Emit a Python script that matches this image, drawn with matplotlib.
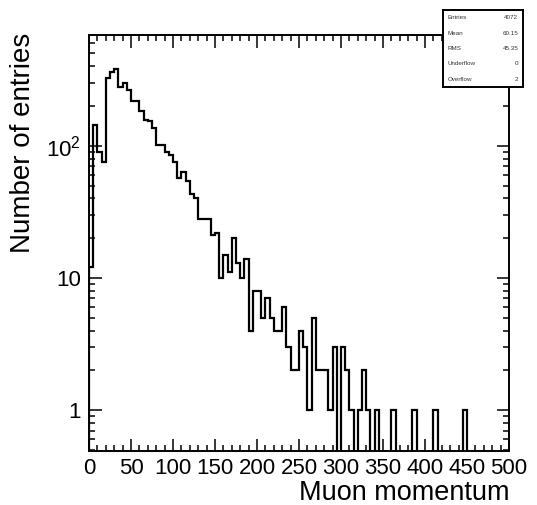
import numpy as np
import matplotlib
matplotlib.use("Agg")
import matplotlib.pyplot as plt
from matplotlib.ticker import FixedLocator, MultipleLocator, LogLocator, NullFormatter

plt.rcParams['font.family'] = ['Liberation Sans', 'DejaVu Sans']
plt.rcParams['mathtext.fontset'] = 'custom'
plt.rcParams['mathtext.rm'] = 'Liberation Sans'
plt.rcParams['mathtext.it'] = 'Liberation Sans:italic'

# muon momentum histogram, 100 bins of width 5 from 0 to 500
bin_edges = np.arange(0, 505, 5)
counts = [
    12, 145, 90, 76, 325, 365, 381, 281, 298, 266,
    220, 220, 182, 157, 153, 136, 101, 101, 90, 85,
    76, 57, 63, 54, 43, 40, 28, 28, 28, 21,
    22, 10, 15, 11, 20, 13, 10, 14, 4, 8,
    8, 5, 7, 5, 4, 4, 6, 3, 2, 2,
    4, 3, 1, 5, 2, 2, 2, 1, 3, 0,
    3, 2, 1, 0, 1, 2, 1, 0, 1, 0,
    0, 0, 1, 0, 0, 0, 0, 1, 0, 0,
    0, 0, 1, 0, 0, 0, 0, 0, 0, 1,
    0, 0, 0, 0, 0, 0, 0, 0, 0, 0,
]
xticks = [0, 50, 100, 150, 200, 250, 300, 350, 400, 450, 500]
yticks = [1, 10, 100]
ytick_labels = ['1', '10', '$10^{2}$']
stats_names = ['Entries', 'Mean', 'RMS', 'Underflow', 'Overflow']
stats_values = ['4072', '60.15', '45.35', '0', '2']

W, H = 537, 505
fig = plt.figure(figsize=(W / 100, H / 100), dpi=100)
ax = fig.add_axes([89 / W, 54 / H, 420 / W, 416 / H])

floor = 1e-3   # empty bins drop to the bottom of the log axis
vals = np.array(counts, dtype=float)
vals = np.where(vals > 0, vals, floor)
ax.stairs(vals, bin_edges, baseline=floor, color='black', lw=1.6)

ax.set_yscale('log')
ax.set_xlim(0, 500)
ax.set_ylim(0.49, 690)

ax.xaxis.set_major_locator(FixedLocator(xticks))
ax.xaxis.set_minor_locator(MultipleLocator(10))
ax.yaxis.set_major_locator(FixedLocator(yticks))
ax.yaxis.set_minor_locator(LogLocator(base=10, subs=np.arange(2, 10)))
ax.yaxis.set_minor_formatter(NullFormatter())
ax.set_yticklabels(ytick_labels)

ax.tick_params(which='both', direction='in', top=True, right=True, width=1.1)
ax.tick_params(which='major', length=9, labelsize=16)
ax.tick_params(which='minor', length=4)
ax.tick_params(axis='x', which='major', pad=5)
ax.tick_params(axis='y', which='major', pad=6)
for s in ax.spines.values():
    s.set_linewidth(1.4)

fig.text(23 / W, 1 - 33 / H, 'Number of entries', rotation=90,
         ha='center', va='top', fontsize=20)
fig.text(509 / W, 5 / H, 'Muon momentum', ha='right', va='baseline',
         fontsize=19.5)

# stats box
sb = fig.add_axes([443 / W, 1 - 87 / H, 80 / W, 77 / H])
sb.set_xticks([])
sb.set_yticks([])
sb.set_xlim(0, 1)
sb.set_ylim(0, 1)
for s in sb.spines.values():
    s.set_linewidth(1.4)
for i, (n, v) in enumerate(zip(stats_names, stats_values)):
    yy = 1 - (i + 0.5) / len(stats_names)
    sb.text(0.06, yy, n, fontsize=4.5, va='center', ha='left', color='#333333')
    sb.text(0.94, yy, v, fontsize=4.5, va='center', ha='right', color='#333333')

fig.savefig('out.png', dpi=100)
